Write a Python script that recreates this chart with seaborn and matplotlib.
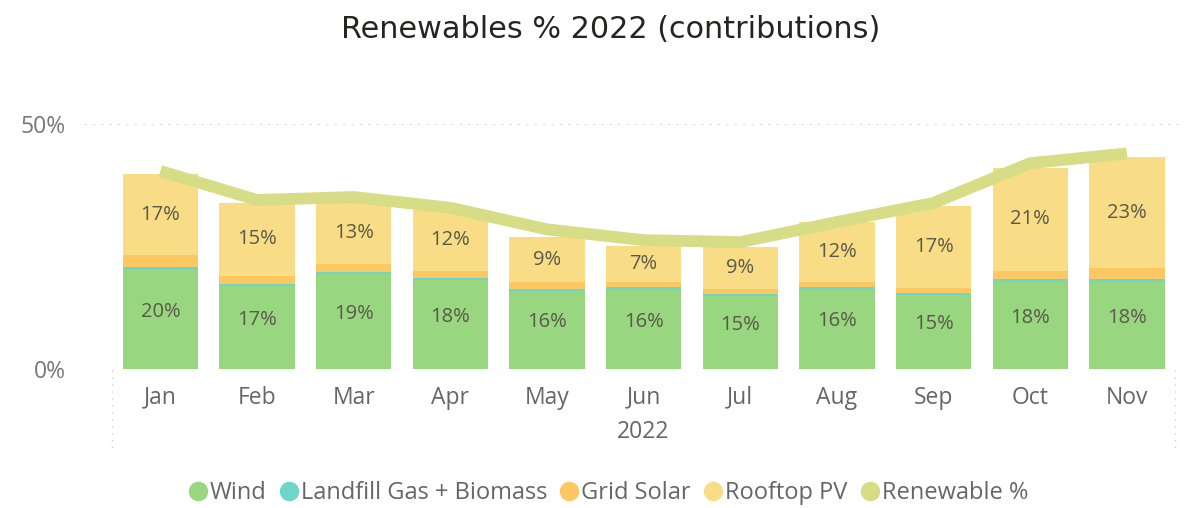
import matplotlib
matplotlib.use("Agg")
import matplotlib.pyplot as plt
import seaborn as sns
import numpy as np
from matplotlib.lines import Line2D

months = ["Jan", "Feb", "Mar", "Apr", "May", "Jun", "Jul", "Aug", "Sep", "Oct", "Nov"]
wind = [20.3, 16.9, 19.3, 18.2, 16.0, 16.3, 15.0, 16.4, 15.2, 18.0, 18.0]
landfill = [0.5, 0.4, 0.4, 0.4, 0.4, 0.4, 0.3, 0.4, 0.3, 0.3, 0.3]
grid_solar = [2.4, 1.7, 1.8, 1.5, 1.3, 1.0, 1.0, 1.0, 1.0, 1.8, 2.3]
rooftop = [16.6, 14.9, 12.6, 12.3, 9.2, 7.3, 8.7, 12.3, 16.8, 21.0, 22.6]
renewable = [40.4, 34.5, 35.1, 32.9, 28.5, 26.3, 25.9, 30.0, 33.9, 42.0, 44.0]
year_label = "2022"
title = "Renewables % 2022 (contributions)"

sns.set_theme(style="white")
plt.rcParams["font.family"] = ["Open Sans", "DejaVu Sans"]

c_wind = "#98D67F"
c_land = "#6FD5C9"
c_grid = "#FDC862"
c_roof = "#F8DC86"
c_line = "#D6DD86"
c_text = "#666666"
c_lab = "#5A5A4A"

fig = plt.figure(figsize=(11.95, 5.08), dpi=100)
ax = fig.add_axes([85 / 1195, (508 - 369) / 508, (1180 - 85) / 1195, 245 / 508])

x = np.arange(len(months))
w = np.array(wind)
l = np.array(landfill)
g = np.array(grid_solar)
r = np.array(rooftop)

bw = 0.78
kw = dict(width=bw, ax=ax, saturation=1, zorder=2, linewidth=0, edgecolor="none")
sns.barplot(x=months, y=w, color=c_wind, **kw)
sns.barplot(x=months, y=l, bottom=w, color=c_land, **kw)
sns.barplot(x=months, y=g, bottom=w + l, color=c_grid, **kw)
sns.barplot(x=months, y=r, bottom=w + l + g, color=c_roof, **kw)

sns.lineplot(x=x, y=renewable, color=c_line, linewidth=8.5, ax=ax, zorder=4,
             solid_capstyle="butt", solid_joinstyle="round")

lab_fs = 14.5
for i in range(len(months)):
    ax.text(x[i], w[i] / 2 + 1.5, f"{w[i]:.0f}%", ha="center", va="center",
            fontsize=lab_fs, color=c_lab, zorder=5)
    ax.text(x[i], w[i] + l[i] + g[i] + r[i] / 2, f"{r[i]:.0f}%", ha="center", va="center",
            fontsize=lab_fs, color=c_lab, zorder=5)

ax.set_xlim(-0.78, 10.55)
ax.set_ylim(0, 50)
ax.set_yticks([0, 50])
ax.set_yticklabels(["0%", "50%"], fontsize=16.5, color="#777777")
ax.tick_params(axis="y", length=0, pad=14)
ax.tick_params(axis="x", length=0, pad=12, labelsize=16.5, labelcolor=c_text)
ax.set_xticks(x)
ax.set_xticklabels(months)
for s in ax.spines.values():
    s.set_visible(False)
ax.grid(False)
ax.axhline(50, color="#C8C8C8", linestyle=(0, (1, 4)), linewidth=1.2, zorder=1)
ax.axhline(0, color="#DDDDDD", linestyle=(0, (1, 4)), linewidth=1.0, zorder=1)
ax.set_xlabel("")
ax.set_ylabel("")

# hierarchy box dotted verticals
for xp in [112, 1175]:
    fig.add_artist(Line2D([xp / 1195, xp / 1195], [(508 - 370) / 508, (508 - 452) / 508],
                          color="#D0D0D0", linestyle=(0, (1, 4)), linewidth=1.0))

fig.text(643 / 1195, 1 - 432 / 508, year_label, ha="center", va="center",
         fontsize=16.5, color=c_text)

fig.text(611 / 1195, 1 - 29 / 508, title, ha="center", va="center", fontsize=21.8,
         color="#252423", family=["DejaVu Sans"])

handles = [Line2D([], [], marker="o", linestyle="", markersize=13, color=c)
           for c in [c_wind, c_land, c_grid, c_roof, c_line]]
labels = ["Wind", "Landfill Gas + Biomass", "Grid Solar", "Rooftop PV", "Renewable %"]
fig.legend(handles, labels, loc="center", bbox_to_anchor=(607 / 1195, 1 - 493 / 508),
           ncol=5, frameon=False, fontsize=17, labelcolor=c_text, handletextpad=0.0,
           columnspacing=0.45, handlelength=1.0)

fig.savefig("out.png", dpi=100)
